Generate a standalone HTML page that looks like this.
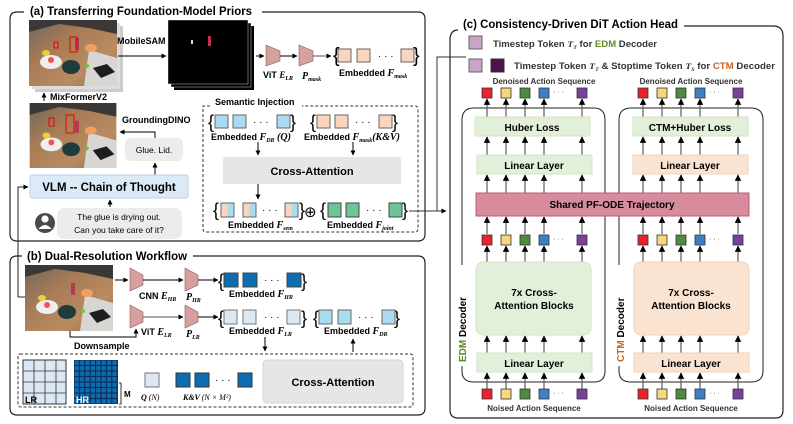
<!DOCTYPE html>
<html><head><meta charset="utf-8"><style>
html,body{margin:0;padding:0;background:#fff}
svg{display:block}
text{font-family:"Liberation Sans",sans-serif}
.t{font-weight:bold;font-size:11.5px}
.l{font-size:9px;font-weight:bold}
.m{font-family:"Liberation Serif",serif;font-style:italic;font-weight:bold}
</style></head><body>
<svg width="793" height="424" viewBox="0 0 793 424" xmlns="http://www.w3.org/2000/svg">
<defs>
<marker id="a" viewBox="0 0 10 10" refX="9" refY="5" markerWidth="5" markerHeight="5" orient="auto"><path d="M0,0L10,5L0,10z" fill="#000"/></marker>
<linearGradient id="desk" x1="0" y1="0" x2="1" y2="1"><stop offset="0" stop-color="#6d6660"/><stop offset=".35" stop-color="#a77b55"/><stop offset=".7" stop-color="#b98b62"/><stop offset="1" stop-color="#8d6a4f"/></linearGradient>
<symbol id="photo" viewBox="0 0 88 66">
<rect width="88" height="66" fill="url(#desk)"/>
<path d="M0,0H88V14L60,8L30,4L0,12z" fill="#3b3937"/>
<path d="M60,30L88,38V66H55z" fill="#d8d6d2"/>
<path d="M64,48L78,44L86,52L72,58z" fill="#1d1d1d"/>
<ellipse cx="22" cy="42" rx="11" ry="7" fill="#eee"/>
<circle cx="22" cy="40" r="3" fill="#e55"/>
<ellipse cx="17" cy="33" rx="4" ry="3" fill="#e8d23a"/>
<ellipse cx="42" cy="47" rx="9" ry="7" fill="#203b3b"/>
<ellipse cx="62" cy="28" rx="6" ry="4" fill="#f2a060"/>
<rect x="46" y="18" width="4" height="12" fill="#b23a56"/>
<circle cx="58" cy="46" r="2" fill="#6c3"/>
</symbol>
</defs>

<!-- Panel (a) -->
<path d="M24,12H17Q10,12 10,19V234Q10,241 17,241H418Q425,241 425,234V19Q425,12 418,12H262" fill="none" stroke="#222" stroke-width="1.2"/>
<text x="30" y="15" class="t" textLength="222" lengthAdjust="spacingAndGlyphs">(a) Transferring Foundation-Model Priors</text>
<rect x="35" y="26" width="88" height="66" fill="#ccc"/>
<rect x="32" y="23" width="88" height="66" fill="#ddd"/>
<use href="#photo" x="29" y="20" width="88" height="66"/>
<rect x="54" y="42" width="4" height="6" fill="none" stroke="#e00" stroke-width="1"/>
<rect x="70" y="37" width="7" height="15" fill="none" stroke="#e00" stroke-width="1"/>
<text x="117" y="44" class="l">MobileSAM</text>
<line x1="118" y1="56" x2="166" y2="56" stroke="#000" marker-end="url(#a)"/>
<rect x="174" y="26" width="80" height="64" fill="#000"/>
<rect x="171" y="23" width="80" height="64" fill="#000" stroke="#fff" stroke-width=".4"/>
<rect x="168" y="20" width="80" height="64" fill="#000" stroke="#fff" stroke-width=".4"/>
<rect x="191" y="40" width="2" height="4" fill="#ddd"/>
<rect x="208" y="36" width="3" height="10" fill="#c03050"/>
<line x1="256" y1="56" x2="264" y2="56" stroke="#000" marker-end="url(#a)"/>
<path d="M266,45L280,51V61L266,66z" fill="#d5a09e" stroke="#8c5e5c" stroke-width=".6"/>
<line x1="280" y1="56" x2="297" y2="56" stroke="#000" marker-end="url(#a)"/>
<path d="M299,45L313,51V61L299,66z" fill="#d5a09e" stroke="#8c5e5c" stroke-width=".6"/>
<line x1="313" y1="56" x2="331" y2="56" stroke="#555" marker-end="url(#a)"/>
<text x="333" y="62" font-size="20" font-weight="100">{</text><text x="413" y="62" font-size="20" font-weight="100">}</text>
<g fill="#f9d5bd" stroke="#666" stroke-width="1">
<rect x="338" y="49" width="13" height="13"/><rect x="357" y="49" width="13" height="13"/><rect x="401" y="49" width="13" height="13"/></g>
<text x="378" y="59" font-size="10">· · ·</text>
<text x="263" y="78" class="l">ViT <tspan class="m">E<tspan font-size="6" dy="2">LR</tspan></tspan></text>
<text x="302" y="79" class="m" font-size="10">P<tspan font-size="6" dy="2">mask</tspan></text>
<text x="339" y="76" class="l">Embedded <tspan class="m" font-size="10">F<tspan font-size="6" dy="2">mask</tspan></tspan></text>

<line x1="44" y1="101" x2="44" y2="93" stroke="#000" marker-end="url(#a)"/>
<text x="50" y="100" class="l">MixFormerV2</text>
<use href="#photo" x="29" y="103" width="88" height="65"/>
<rect x="49" y="118" width="5" height="8" fill="none" stroke="#e00"/>
<rect x="66" y="115" width="8" height="18" fill="none" stroke="#e00"/>
<text x="122" y="123" class="l">GroundingDINO</text>
<polyline points="155,138 155,132 120,132" fill="none" stroke="#000" marker-end="url(#a)"/>
<rect x="125" y="138" width="58" height="23" rx="5" fill="#ececec"/>
<text x="154" y="153" font-size="8.5" text-anchor="middle">Glue. Lid.</text>
<line x1="155" y1="175" x2="155" y2="163" stroke="#000" marker-end="url(#a)"/>
<rect x="30" y="175" width="158" height="23" rx="2" fill="#dce9f6" stroke="#bcd2ea"/>
<text x="109" y="191" font-size="11.5" font-weight="bold" text-anchor="middle">VLM -- Chain of Thought</text>
<line x1="110" y1="207" x2="110" y2="200" stroke="#000" marker-end="url(#a)"/>
<circle cx="45" cy="223" r="10" fill="#4a4a4a"/>
<circle cx="45" cy="219" r="3.6" fill="#fff"/><path d="M38.5,229Q45,221 51.5,229z" fill="#fff"/>
<rect x="57" y="208" width="125" height="31" rx="7" fill="#ececec"/>
<text x="119" y="220" font-size="8.5" text-anchor="middle">The glue is drying out.</text>
<text x="119" y="233" font-size="8.5" text-anchor="middle">Can you take care of it?</text>
<polyline points="18,297 18,187 28,187" fill="none" stroke="#222" marker-end="url(#a)"/>
<line x1="18" y1="297" x2="25" y2="297" stroke="#222"/>

<!-- Semantic injection -->
<path d="M210,106H203V229Q203,232 206,232H415Q418,232 418,229V109Q418,106 415,106H302" fill="none" stroke="#333" stroke-dasharray="3,2"/>
<text x="215" y="105" class="l" font-weight="normal">Semantic Injection</text>
<text x="208" y="128" font-size="18" font-weight="100">{</text><text x="290" y="128" font-size="18" font-weight="100">}</text>
<g fill="#a9dcf0" stroke="#666"><rect x="215" y="115" width="13" height="13"/><rect x="233" y="115" width="13" height="13"/><rect x="277" y="115" width="13" height="13"/></g>
<text x="253" y="125" font-size="10">· · ·</text>
<text x="310" y="128" font-size="18" font-weight="100">{</text><text x="392" y="128" font-size="18" font-weight="100">}</text>
<g fill="#f9d5bd" stroke="#666"><rect x="317" y="115" width="13" height="13"/><rect x="335" y="115" width="13" height="13"/><rect x="379" y="115" width="13" height="13"/></g>
<text x="355" y="125" font-size="10">· · ·</text>
<text x="211" y="140" class="l">Embedded <tspan class="m" font-size="10">F<tspan font-size="6" dy="2">DR</tspan><tspan dy="-2"> (Q)</tspan></tspan></text>
<text x="304" y="140" class="l">Embedded <tspan class="m" font-size="10">F<tspan font-size="6" dy="2">mask</tspan><tspan dy="-2">(K&amp;V)</tspan></tspan></text>
<line x1="258" y1="142" x2="258" y2="155" stroke="#000" marker-end="url(#a)"/>
<line x1="353" y1="142" x2="353" y2="155" stroke="#000" marker-end="url(#a)"/>
<rect x="223" y="157" width="178" height="27" rx="2" fill="#e6e6e6"/>
<text x="312" y="175" font-size="11" font-weight="bold" text-anchor="middle">Cross-Attention</text>
<line x1="258" y1="184" x2="258" y2="199" stroke="#000" marker-end="url(#a)"/>
<text x="213" y="216" font-size="18" font-weight="100">{</text><text x="299" y="216" font-size="18" font-weight="100">}</text>
<defs><linearGradient id="sem"><stop offset=".5" stop-color="#f9d5bd"/><stop offset=".5" stop-color="#a9dcf0"/></linearGradient></defs>
<g fill="url(#sem)" stroke="#666"><rect x="221" y="203" width="13" height="14"/><rect x="243" y="203" width="13" height="14"/><rect x="285" y="203" width="13" height="14"/></g>
<text x="262" y="213" font-size="10">· · ·</text>
<text x="304" y="217" font-size="15">⊕</text>
<text x="320" y="216" font-size="18" font-weight="100">{</text><text x="402" y="216" font-size="18" font-weight="100">}</text>
<g fill="#6cc497" stroke="#444"><rect x="328" y="203" width="13" height="14"/><rect x="346" y="203" width="13" height="14"/><rect x="389" y="203" width="13" height="14"/></g>
<text x="366" y="213" font-size="10">· · ·</text>
<text x="228" y="228" class="l">Embedded <tspan class="m" font-size="10">F<tspan font-size="6" dy="2">sem</tspan></tspan></text>
<text x="327" y="228" class="l">Embedded <tspan class="m" font-size="10">F<tspan font-size="6" dy="2">joint</tspan></tspan></text>
<polyline points="409,211 437,211 437,57 466,57" fill="none" stroke="#333"/>
<line x1="437" y1="211" x2="446" y2="211" stroke="#333" marker-end="url(#a)"/>

<!-- Panel (b) -->
<path d="M22,256H17Q10,256 10,263V408Q10,415 17,415H418Q425,415 425,408V263Q425,256 418,256H193" fill="none" stroke="#222" stroke-width="1.2"/>
<text x="27" y="260" class="t" textLength="160" lengthAdjust="spacingAndGlyphs">(b) Dual-Resolution Workflow</text>
<use href="#photo" x="25" y="265" width="88" height="66"/>
<line x1="115" y1="280" x2="128" y2="280" stroke="#000" marker-end="url(#a)"/>
<path d="M130,268L143,275V285L130,291z" fill="#d5a09e" stroke="#8c5e5c" stroke-width=".6"/>
<line x1="143" y1="280" x2="183" y2="280" stroke="#000" marker-end="url(#a)"/>
<path d="M185,268L198,275V285L185,291z" fill="#d5a09e" stroke="#8c5e5c" stroke-width=".6"/>
<line x1="198" y1="280" x2="218" y2="280" stroke="#000" marker-end="url(#a)"/>
<text x="218" y="287" font-size="18" font-weight="100">{</text><text x="301" y="287" font-size="18" font-weight="100">}</text>
<g fill="#0c6db5" stroke="#444"><rect x="224" y="273" width="14" height="14"/><rect x="243" y="273" width="14" height="14"/><rect x="287" y="273" width="14" height="14"/></g>
<text x="264" y="283" font-size="10">· · ·</text>
<text x="139" y="299" class="l">CNN <tspan class="m" font-size="10">E<tspan font-size="6" dy="2">HR</tspan></tspan></text>
<text x="186" y="300" class="m" font-size="10">P<tspan font-size="6" dy="2">HR</tspan></text>
<text x="229" y="297" class="l">Embedded <tspan class="m" font-size="10">F<tspan font-size="6" dy="2">HR</tspan></tspan></text>
<path d="M130,305L143,312V322L130,328z" fill="#d5a09e" stroke="#8c5e5c" stroke-width=".6"/>
<line x1="143" y1="317" x2="183" y2="317" stroke="#555" marker-end="url(#a)"/>
<path d="M185,305L198,312V322L185,328z" fill="#d5a09e" stroke="#8c5e5c" stroke-width=".6"/>
<line x1="198" y1="317" x2="218" y2="317" stroke="#000" marker-end="url(#a)"/>
<text x="218" y="324" font-size="18" font-weight="100">{</text><text x="301" y="324" font-size="18" font-weight="100">}</text>
<g fill="#dde8f5" stroke="#777"><rect x="224" y="310" width="13" height="14"/><rect x="243" y="310" width="13" height="14"/><rect x="287" y="310" width="13" height="14"/></g>
<text x="264" y="320" font-size="10">· · ·</text>
<text x="313" y="324" font-size="18" font-weight="100">{</text><text x="394" y="324" font-size="18" font-weight="100">}</text>
<g fill="#a9dcf0" stroke="#666"><rect x="319" y="310" width="13" height="14"/><rect x="338" y="310" width="13" height="14"/><rect x="382" y="310" width="13" height="14"/></g>
<text x="358" y="320" font-size="10">· · ·</text>
<text x="141" y="335" class="l">ViT <tspan class="m" font-size="10">E<tspan font-size="6" dy="2">LR</tspan></tspan></text>
<text x="186" y="337" class="m" font-size="10">P<tspan font-size="6" dy="2">LR</tspan></text>
<text x="229" y="334" class="l">Embedded <tspan class="m" font-size="10">F<tspan font-size="6" dy="2">LR</tspan></tspan></text>
<text x="324" y="334" class="l">Embedded <tspan class="m" font-size="10">F<tspan font-size="6" dy="2">DR</tspan></tspan></text>
<polyline points="70,331 70,337 136,337 136,329" fill="none" stroke="#000" marker-end="url(#a)"/>
<text x="74" y="349" class="l">Downsample</text>
<line x1="265" y1="337" x2="265" y2="351" stroke="#000" marker-end="url(#a)"/>
<line x1="353" y1="352" x2="353" y2="339" stroke="#000" marker-end="url(#a)"/>
<path d="M20,354H410Q413,354 413,357V404Q413,407 410,407H21Q18,407 18,404V357Q18,354 20,354" fill="none" stroke="#333" stroke-dasharray="3,2"/>
<rect x="23" y="360" width="43" height="44" fill="#dde8f5" stroke="#333"/>
<g stroke="#333" stroke-width=".8"><line x1="34" y1="360" x2="34" y2="404"/><line x1="45" y1="360" x2="45" y2="404"/><line x1="56" y1="360" x2="56" y2="404"/><line x1="23" y1="371" x2="66" y2="371"/><line x1="23" y1="382" x2="66" y2="382"/><line x1="23" y1="393" x2="66" y2="393"/></g>
<text x="25" y="403" font-size="9" font-weight="bold">LR</text>
<defs><pattern id="hr" width="5.4" height="5.5" patternUnits="userSpaceOnUse" x="74" y="360"><rect width="5.4" height="5.5" fill="#0c2f55"/><rect x=".6" y=".6" width="4.2" height="4.3" fill="#0c6db5"/></pattern></defs>
<rect x="74" y="360" width="44" height="44" fill="url(#hr)"/>
<text x="76" y="403" font-size="9" font-weight="bold" fill="#fff">HR</text>
<path d="M119,383H121V404H119" fill="none" stroke="#000" stroke-width=".8"/>
<text x="124" y="397" font-size="8" font-weight="bold" font-family="Liberation Serif">M</text>
<rect x="145" y="373" width="14" height="14" fill="#dde8f5" stroke="#777"/>
<text x="141" y="400" class="m" font-size="8">Q <tspan font-weight="normal">(N)</tspan></text>
<g fill="#0c6db5" stroke="#333"><rect x="176" y="373" width="14" height="14"/><rect x="195" y="373" width="14" height="14"/><rect x="238" y="373" width="14" height="14"/></g>
<text x="215" y="383" font-size="10">· · ·</text>
<text x="183" y="400" class="m" font-size="8">K&amp;V <tspan font-weight="normal">(N × M²)</tspan></text>
<rect x="263" y="360" width="140" height="43" rx="4" fill="#e6e6e6" stroke="#d6d6d6"/>
<text x="333" y="386" font-size="11" font-weight="bold" text-anchor="middle">Cross-Attention</text>

<!-- Panel (c) -->
<path d="M458,30Q450,30 450,40V410Q450,418 458,418H776Q783,418 783,410V36Q783,26 773,26H684" fill="none" stroke="#222" stroke-width="1.2"/>
<text x="463" y="28" class="t" textLength="215" lengthAdjust="spacingAndGlyphs">(c) Consistency-Driven DiT Action Head</text>
<rect x="469" y="36" width="13" height="13" fill="#c8a4c9" stroke="#666"/>
<text x="493" y="47" font-size="8.8" font-weight="bold" fill="#333" textLength="164" lengthAdjust="spacingAndGlyphs">Timestep Token <tspan class="m">T<tspan font-size="5.5" dy="2">T</tspan></tspan><tspan dy="-2"> for </tspan><tspan fill="#5a8a2a">EDM</tspan> Decoder</text>
<rect x="469" y="59" width="13" height="13" fill="#c8a4c9" stroke="#666"/>
<rect x="491" y="59" width="13" height="13" fill="#4d1248" stroke="#333"/>
<text x="514" y="69" font-size="8.8" font-weight="bold" fill="#333" textLength="261" lengthAdjust="spacingAndGlyphs">Timestep Token <tspan class="m">T<tspan font-size="5.5" dy="2">T</tspan></tspan><tspan dy="-2"> &amp; Stoptime Token </tspan><tspan class="m">T<tspan font-size="5.5" dy="2">S</tspan></tspan><tspan dy="-2"> for </tspan><tspan fill="#c8641e">CTM</tspan> Decoder</text>
<text x="544" y="84" font-size="8" font-weight="bold" fill="#333" text-anchor="middle">Denoised Action Sequence</text>
<text x="691" y="84" font-size="8" font-weight="bold" fill="#333" text-anchor="middle">Denoised Action Sequence</text>
<path d="M462,265V120Q462,108 474,108H594Q605,108 605,120V371Q605,382 594,382H474Q462,382 462,371V366" fill="none" stroke="#222"/>
<path d="M619,265V120Q619,108 631,108H751Q763,108 763,120V371Q763,382 751,382H631Q619,382 619,371V366" fill="none" stroke="#222"/>
<text transform="translate(466,362) rotate(-90)" font-size="10" font-weight="bold"><tspan fill="#5a8a2a">EDM</tspan>  Decoder</text>
<text transform="translate(624,362) rotate(-90)" font-size="10" font-weight="bold"><tspan fill="#c8641e">CTM</tspan>  Decoder</text>
<g stroke="#666" stroke-width="1.3" marker-end="url(#a)">
<line x1="487" y1="117" x2="487" y2="99"/><line x1="506" y1="117" x2="506" y2="99"/><line x1="525" y1="117" x2="525" y2="99"/><line x1="544" y1="117" x2="544" y2="99"/><line x1="582" y1="117" x2="582" y2="99"/>
<line x1="643" y1="117" x2="643" y2="99"/><line x1="662" y1="117" x2="662" y2="99"/><line x1="681" y1="117" x2="681" y2="99"/><line x1="700" y1="117" x2="700" y2="99"/><line x1="738" y1="117" x2="738" y2="99"/>
<line x1="487" y1="155" x2="487" y2="137"/><line x1="506" y1="155" x2="506" y2="137"/><line x1="525" y1="155" x2="525" y2="137"/><line x1="544" y1="155" x2="544" y2="137"/><line x1="582" y1="155" x2="582" y2="137"/>
<line x1="643" y1="155" x2="643" y2="137"/><line x1="662" y1="155" x2="662" y2="137"/><line x1="681" y1="155" x2="681" y2="137"/><line x1="700" y1="155" x2="700" y2="137"/><line x1="738" y1="155" x2="738" y2="137"/>
<line x1="487" y1="193" x2="487" y2="175"/><line x1="506" y1="193" x2="506" y2="175"/><line x1="525" y1="193" x2="525" y2="175"/><line x1="544" y1="193" x2="544" y2="175"/><line x1="582" y1="193" x2="582" y2="175"/>
<line x1="643" y1="193" x2="643" y2="175"/><line x1="662" y1="193" x2="662" y2="175"/><line x1="681" y1="193" x2="681" y2="175"/><line x1="700" y1="193" x2="700" y2="175"/><line x1="738" y1="193" x2="738" y2="175"/>
<line x1="487" y1="234" x2="487" y2="217"/><line x1="506" y1="234" x2="506" y2="217"/><line x1="525" y1="234" x2="525" y2="217"/><line x1="544" y1="234" x2="544" y2="217"/><line x1="582" y1="234" x2="582" y2="217"/>
<line x1="643" y1="234" x2="643" y2="217"/><line x1="662" y1="234" x2="662" y2="217"/><line x1="681" y1="234" x2="681" y2="217"/><line x1="700" y1="234" x2="700" y2="217"/><line x1="738" y1="234" x2="738" y2="217"/>
<line x1="487" y1="262" x2="487" y2="246"/><line x1="506" y1="262" x2="506" y2="246"/><line x1="525" y1="262" x2="525" y2="246"/><line x1="544" y1="262" x2="544" y2="246"/><line x1="582" y1="262" x2="582" y2="246"/>
<line x1="643" y1="262" x2="643" y2="246"/><line x1="662" y1="262" x2="662" y2="246"/><line x1="681" y1="262" x2="681" y2="246"/><line x1="700" y1="262" x2="700" y2="246"/><line x1="738" y1="262" x2="738" y2="246"/>
<line x1="487" y1="353" x2="487" y2="336"/><line x1="506" y1="353" x2="506" y2="336"/><line x1="525" y1="353" x2="525" y2="336"/><line x1="544" y1="353" x2="544" y2="336"/><line x1="582" y1="353" x2="582" y2="336"/>
<line x1="643" y1="353" x2="643" y2="336"/><line x1="662" y1="353" x2="662" y2="336"/><line x1="681" y1="353" x2="681" y2="336"/><line x1="700" y1="353" x2="700" y2="336"/><line x1="738" y1="353" x2="738" y2="336"/>
<line x1="487" y1="389" x2="487" y2="373"/><line x1="506" y1="389" x2="506" y2="373"/><line x1="525" y1="389" x2="525" y2="373"/><line x1="544" y1="389" x2="544" y2="373"/><line x1="582" y1="389" x2="582" y2="373"/>
<line x1="643" y1="389" x2="643" y2="373"/><line x1="662" y1="389" x2="662" y2="373"/><line x1="681" y1="389" x2="681" y2="373"/><line x1="700" y1="389" x2="700" y2="373"/><line x1="738" y1="389" x2="738" y2="373"/>
</g>
<defs>
<g id="row5" stroke="#333" stroke-width=".8">
<rect x="-5" y="0" width="10" height="10" fill="#e8232c"/><rect x="14" y="0" width="10" height="10" fill="#f7d77c"/><rect x="33" y="0" width="10" height="10" fill="#4e8b3e"/><rect x="52" y="0" width="10" height="10" fill="#3d80c6"/><rect x="90" y="0" width="10" height="10" fill="#7b3fa0"/>
<text x="66" y="6" font-size="7" stroke="none" fill="#333">· · ·</text>
</g>
</defs>
<use href="#row5" x="487" y="88"/><use href="#row5" x="643" y="88"/>
<use href="#row5" x="487" y="235"/><use href="#row5" x="643" y="235"/>
<use href="#row5" x="487" y="389"/><use href="#row5" x="643" y="389"/>
<rect x="475" y="117" width="115" height="19" fill="#e2efd9" stroke="#d2e6c6"/>
<text x="532" y="131" font-size="10" font-weight="bold" text-anchor="middle">Huber Loss</text>
<rect x="633" y="117" width="115" height="19" fill="#e2efd9" stroke="#d2e6c6"/>
<text x="690" y="131" font-size="10" font-weight="bold" text-anchor="middle">CTM+Huber Loss</text>
<rect x="477" y="155" width="115" height="19" fill="#e2efd9" stroke="#d2e6c6"/>
<text x="534" y="169" font-size="10" font-weight="bold" text-anchor="middle">Linear Layer</text>
<rect x="633" y="155" width="115" height="19" fill="#fbe3d2" stroke="#efd0bb"/>
<text x="690" y="169" font-size="10" font-weight="bold" text-anchor="middle">Linear Layer</text>
<rect x="476" y="193" width="273" height="23" fill="#d78c9e" stroke="#c05a73"/>
<text x="612" y="208" font-size="10" font-weight="bold" text-anchor="middle">Shared PF-ODE Trajectory</text>
<rect x="476" y="262" width="115" height="73" rx="7" fill="#e2efd9" stroke="#d2e6c6"/>
<text x="534" y="296" font-size="10" font-weight="bold" text-anchor="middle">7x Cross-</text>
<text x="534" y="309" font-size="10" font-weight="bold" text-anchor="middle">Attention Blocks</text>
<rect x="634" y="262" width="115" height="73" rx="7" fill="#fbe3d2" stroke="#efd0bb"/>
<text x="691" y="296" font-size="10" font-weight="bold" text-anchor="middle">7x Cross-</text>
<text x="691" y="309" font-size="10" font-weight="bold" text-anchor="middle">Attention Blocks</text>
<rect x="477" y="353" width="115" height="19" fill="#e2efd9" stroke="#d2e6c6"/>
<text x="534" y="367" font-size="10" font-weight="bold" text-anchor="middle">Linear Layer</text>
<rect x="634" y="353" width="115" height="19" fill="#fbe3d2" stroke="#efd0bb"/>
<text x="691" y="367" font-size="10" font-weight="bold" text-anchor="middle">Linear Layer</text>
<text x="534" y="411" font-size="8" font-weight="bold" fill="#333" text-anchor="middle">Noised Action Sequence</text>
<text x="691" y="411" font-size="8" font-weight="bold" fill="#333" text-anchor="middle">Noised Action Sequence</text>
</svg>
</body></html>
